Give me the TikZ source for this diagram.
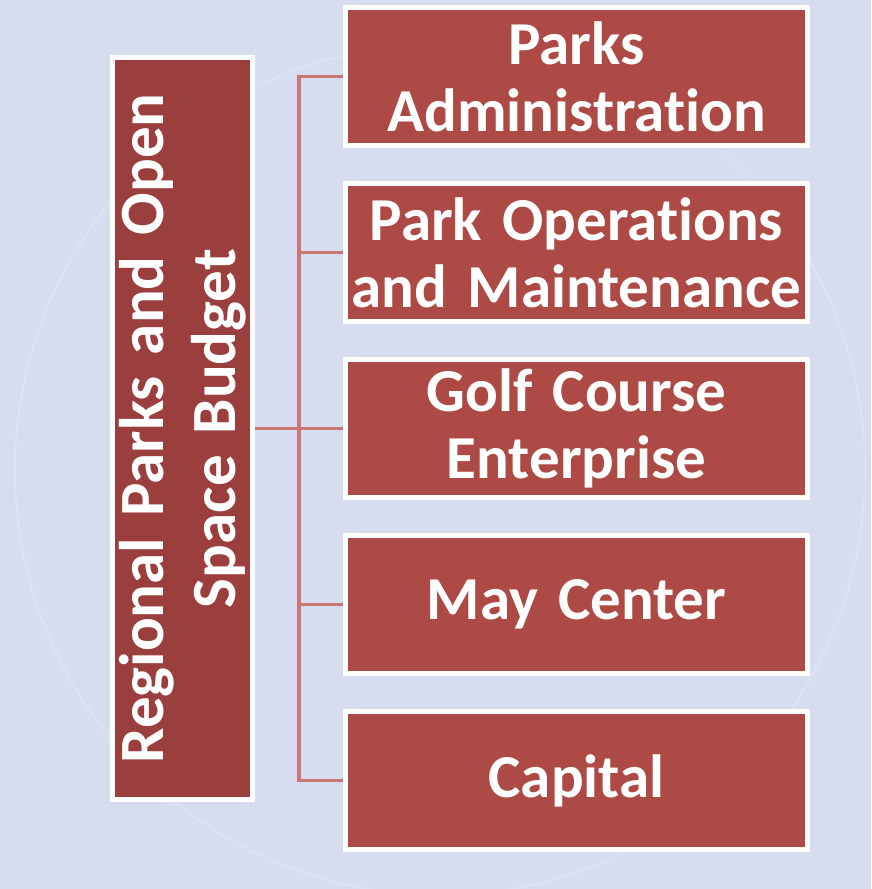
\documentclass[tikz,border=0pt]{standalone}
\usepackage{fontspec}
\setmainfont{Carlito}[Ligatures={NoCommon}]
\definecolor{bgblue}{RGB}{213,221,239}
\definecolor{rootred}{RGB}{154,62,62}
\definecolor{boxred}{RGB}{174,74,69}
\definecolor{linkred}{RGB}{204,118,118}

\begin{document}
\begin{tikzpicture}[x=1pt,y=-1pt,
    box/.style={draw=white, line width=5pt, fill=boxred, text=white,
      font=\fontsize{61}{67}\selectfont\bfseries, align=center, inner sep=0pt,
      minimum width=462pt, minimum height=138pt, text width=455pt},
    rootbox/.style={box, fill=rootred, rotate=90,
      font=\fontsize{63}{72}\selectfont\bfseries,
      minimum width=742pt, minimum height=140pt, text width=720pt},
    link/.style={draw=linkred, line width=3.5pt}]
    \useasboundingbox (0,0) rectangle (871,889);
    \fill[bgblue] (0,0) rectangle (871,889);
    \draw[white, opacity=0.15, line width=2pt] (440,470) circle[radius=425];
    % the budget and its five parts
    \node[rootbox] (budget) at (182.5,428.5) {Regional Parks and Open\\Space Budget};
    \node[box] (admin) at (576.5,76.5) {Parks\\Administration};
    \node[box] (ops) at (576.5,252.5) {Park Operations\\and Maintenance};
    \node[box] (golf) at (576.5,428.5) {Golf Course\\Enterprise};
    \node[box] (may) at (576.5,604.5) {May Center};
    \node[box] (capital) at (576.5,780.5) {Capital};
    \coordinate (trunk) at (299,0);
    % budget.south is the right side, the node is turned
    \draw[link] (budget.south) -- (budget.south -| trunk);
    \foreach \n in {admin,ops,golf,may,capital}
        \draw[link] (budget.south -| trunk) |- (\n.west);
\end{tikzpicture}
\end{document}
